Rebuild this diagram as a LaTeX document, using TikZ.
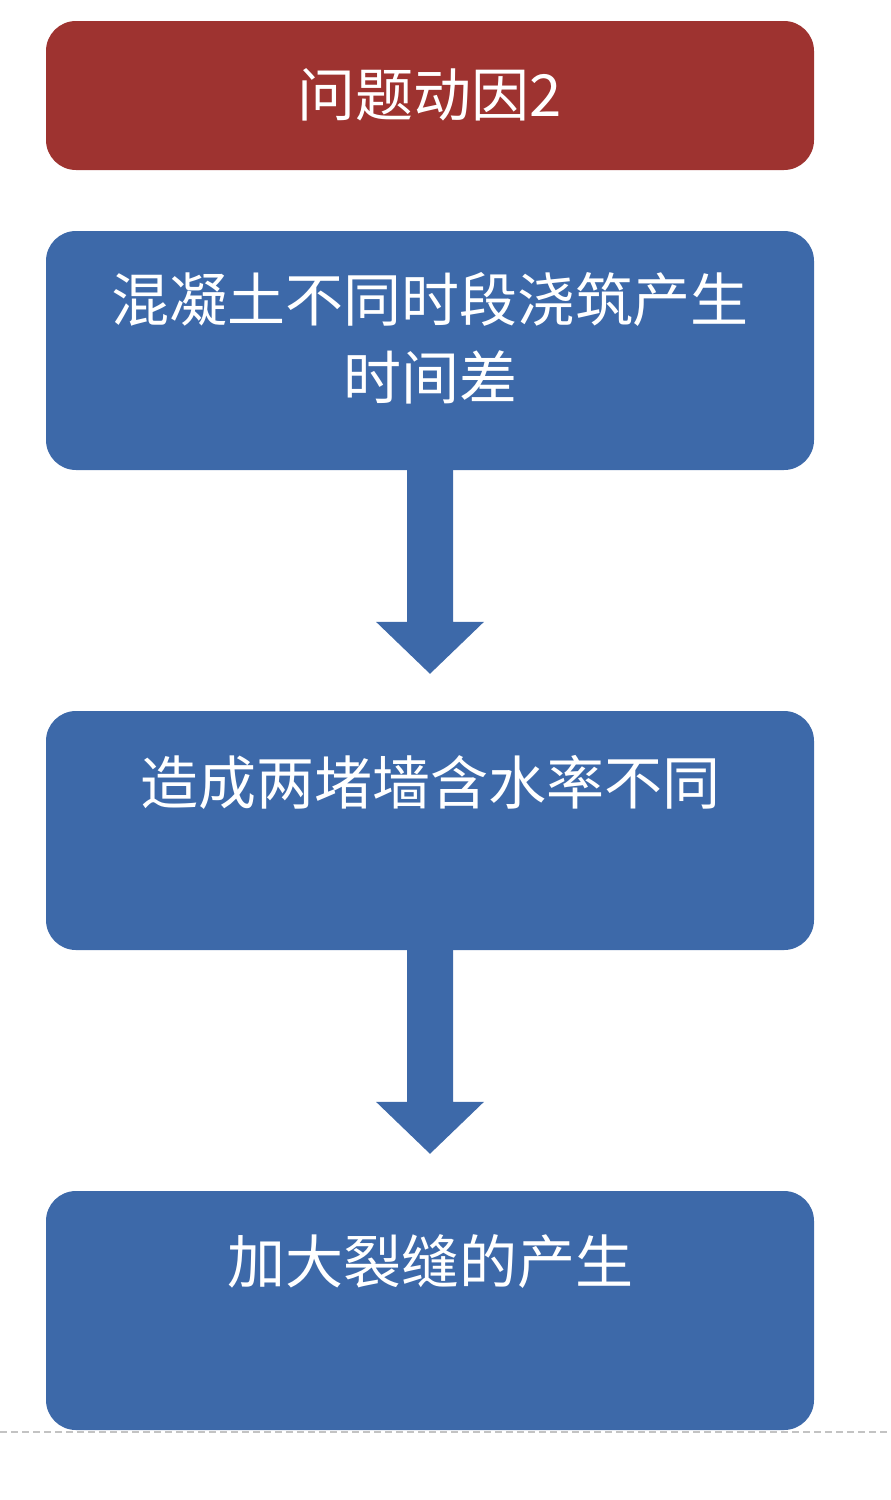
\documentclass[tikz,border=0pt]{standalone}
\usepackage{fontspec}
\newfontfamily\cjk{Noto Sans CJK SC}
\usetikzlibrary{calc}
\definecolor{titlered}{RGB}{158,51,48}
\definecolor{stepblue}{RGB}{61,105,169}
\definecolor{rulegray}{RGB}{195,195,195}

\begin{document}
\begin{tikzpicture}[x=1pt,y=-1pt]
			\tikzstyle{every node}+=[inner sep=0pt]
			\tikzstyle{panel}=[rounded corners=30pt, minimum width=768pt, draw=none]
			\tikzstyle{caption}=[anchor=base, text=white, font=\cjk\fontsize{58}{78}\selectfont]
			\useasboundingbox (0,0) rectangle (891,1500);
			\node [panel, fill=titlered, minimum height=149pt] (title) at (430,95.5) {};
			\node [panel, fill=stepblue, minimum height=239pt] (b1) at (430,350.5) {};
			\node [panel, fill=stepblue, minimum height=239pt] (b2) at (430,830.5) {};
			\node [panel, fill=stepblue, minimum height=239pt] (b3) at (430,1310.5) {};
			\node [caption] (t0) at (430,116) {问题动因2};
			\node [caption] (t1) at (430,321) {混凝土不同时段浇筑产生};
			\node [caption] (t1b) at (430,399) {时间差};
			\node [caption] (t2) at (430,804) {造成两堵墙含水率不同};
			\node [caption] (t3) at (430,1283) {加大裂缝的产生};
			\fill [stepblue] ($(b1.south)+(-23,0)$) -- ($(b2.north)+(-23,-89)$) -- ($(b2.north)+(-54,-89)$)
				-- ($(b2.north)+(0,-37)$) -- ($(b2.north)+(54,-89)$) -- ($(b2.north)+(23,-89)$) -- ($(b1.south)+(23,0)$) -- cycle;
			\fill [stepblue] ($(b2.south)+(-23,0)$) -- ($(b3.north)+(-23,-89)$) -- ($(b3.north)+(-54,-89)$)
				-- ($(b3.north)+(0,-37)$) -- ($(b3.north)+(54,-89)$) -- ($(b3.north)+(23,-89)$) -- ($(b2.south)+(23,0)$) -- cycle;
			\coordinate (dl) at (0,1432);
			\coordinate (dr) at (891,1432);
			\draw [rulegray, line width=2.5pt, dash pattern=on 7pt off 4pt] (dl) -- (dr);
\end{tikzpicture}
\end{document}
